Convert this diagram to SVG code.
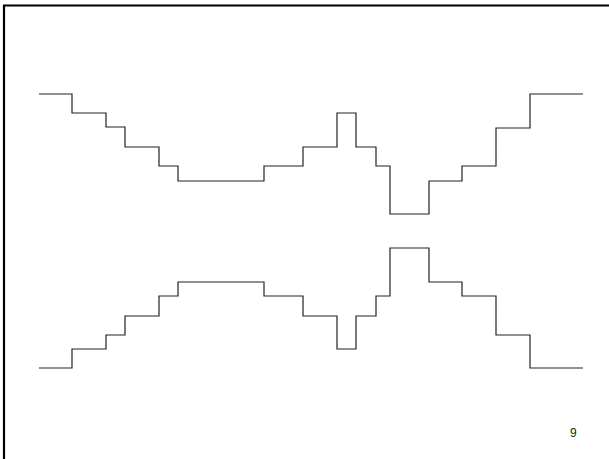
<svg xmlns="http://www.w3.org/2000/svg" width="609" height="459" viewBox="0 0 609 459">
<style>
.frame{fill:none;stroke:#000;stroke-width:2.2}
.curve{fill:none;stroke:#222;stroke-width:1.2}
.num{font-family:"Liberation Sans",Arial,sans-serif;font-size:12px;fill:#222}
</style>
<rect x="0" y="0" width="609" height="459" fill="#fff"/>
<path class="frame" d="M4,460 V5.5 H610"/>
<g id="top-curve">
<path class="curve" d="M39,94 H72 V113 H106 V127 H125 V147 H159 V166 H178 V181 H264 V166 H303 V147 H337 V113 H356 V147 H376 V166 H390 V214 H429 V181 H462 V166 H496 V128 H530 V94 H583"/>
</g>
<g id="bottom-curve">
<path class="curve" d="M39,368 H72 V349 H106 V335 H125 V316 H159 V296 H178 V282 H264 V296 H303 V316 H337 V349 H356 V316 H376 V296 H390 V248 H429 V282 H462 V296 H496 V335 H530 V368 H583"/>
</g>
<g id="page-number">
<text class="num" x="570" y="437">9</text>
</g>
</svg>
